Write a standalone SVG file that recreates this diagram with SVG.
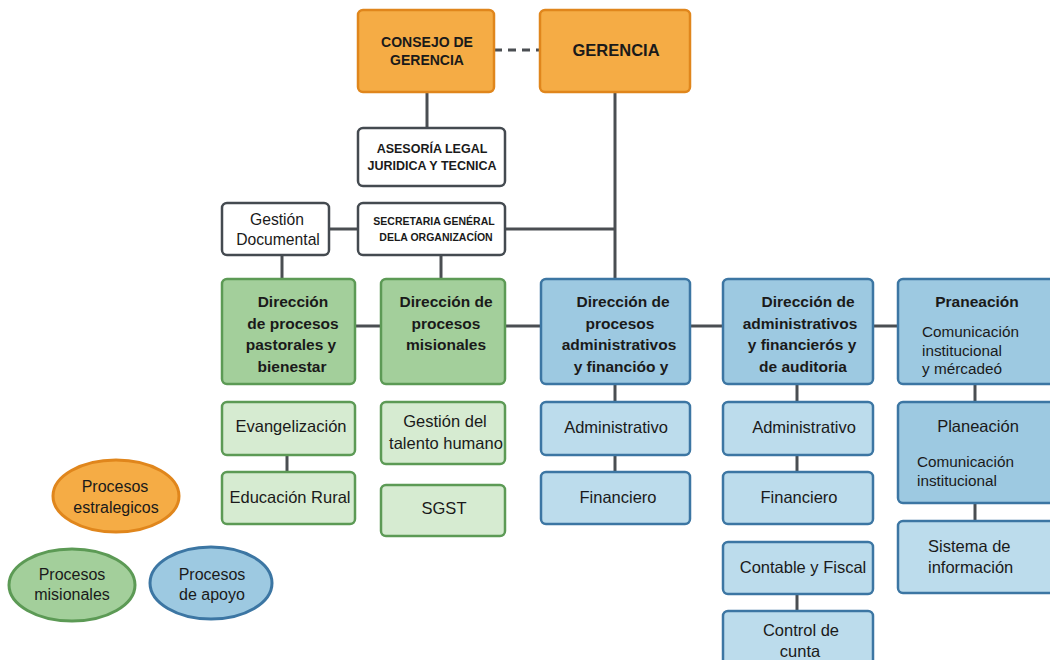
<svg xmlns="http://www.w3.org/2000/svg" width="1050" height="660" viewBox="0 0 1050 660">
<style>
text{font-family:"Liberation Sans",Arial,sans-serif;fill:#1a1a1a;text-anchor:middle}
.b{font-weight:bold}
.s{text-anchor:start}
.or{fill:#F5AC45;stroke:#E0861C;stroke-width:2.5}
.wh{fill:#ffffff;stroke:#444a50;stroke-width:2.5}
.gd{fill:#A3CF9B;stroke:#5C9A55;stroke-width:2.5}
.gl{fill:#D6EBD1;stroke:#5C9A55;stroke-width:2.5}
.bd{fill:#9DC9E1;stroke:#3C76A3;stroke-width:2.5}
.bl{fill:#BCDCEC;stroke:#3C76A3;stroke-width:2.5}
.ln{stroke:#4a4e52;stroke-width:3;fill:none}
</style>
<defs><clipPath id="clipTalento"><rect x="381" y="402" width="123" height="62"/></clipPath></defs>
<rect width="1050" height="660" fill="#ffffff"/>
<g id="connectors">
<line class="ln" x1="494" y1="50" x2="540" y2="50" stroke-dasharray="8,6"/>
<line class="ln" x1="427" y1="92" x2="427" y2="128"/>
<line class="ln" x1="615" y1="92" x2="615" y2="279"/>
<line class="ln" x1="505" y1="229" x2="615" y2="229"/>
<line class="ln" x1="329" y1="229" x2="358" y2="229"/>
<line class="ln" x1="282" y1="255" x2="282" y2="279"/>
<line class="ln" x1="441" y1="255" x2="441" y2="279"/>
<line class="ln" x1="355" y1="326" x2="381" y2="326"/>
<line class="ln" x1="505" y1="326" x2="541" y2="326"/>
<line class="ln" x1="690" y1="326" x2="723" y2="326"/>
<line class="ln" x1="873" y1="326" x2="898" y2="326"/>
<line class="ln" x1="287" y1="455" x2="287" y2="472"/>
<line class="ln" x1="615" y1="384" x2="615" y2="402"/>
<line class="ln" x1="615" y1="455" x2="615" y2="472"/>
<line class="ln" x1="797" y1="384" x2="797" y2="402"/>
<line class="ln" x1="797" y1="455" x2="797" y2="472"/>
<line class="ln" x1="797" y1="594" x2="797" y2="611"/>
<line class="ln" x1="975" y1="384" x2="975" y2="402"/>
<line class="ln" x1="975" y1="503" x2="975" y2="521"/>
</g>
<g id="consejo"><rect class="or" x="358" y="10" width="136" height="82" rx="5"/>
<text class="b" font-size="14"><tspan x="427" y="47">CONSEJO DE</tspan><tspan x="427" y="65">GERENCIA</tspan></text></g>
<g id="gerencia"><rect class="or" x="540" y="10" width="150" height="82" rx="5"/>
<text class="b" font-size="16.5" x="616" y="56">GERENCIA</text></g>
<g id="asesoria"><rect class="wh" x="358" y="128" width="147" height="58" rx="5"/>
<text class="b" font-size="12.5"><tspan x="432" y="153">ASESORÍA LEGAL</tspan><tspan x="432" y="170">JURIDICA Y TECNICA</tspan></text></g>
<g id="secretaria"><rect class="wh" x="358" y="203" width="147" height="52" rx="5"/>
<text class="b" font-size="10.5"><tspan x="434" y="225">SECRETARIA GENÉRAL</tspan><tspan x="436" y="241">DELA ORGANIZACÍON</tspan></text></g>
<g id="gestion-doc"><rect class="wh" x="222" y="203" width="107" height="52" rx="5"/>
<text font-size="15.7"><tspan x="277" y="225">Gestión</tspan><tspan x="278" y="245">Documental</tspan></text></g>
<g id="dir-pastorales"><rect class="gd" x="222" y="279" width="133" height="105" rx="5"/>
<text class="b" font-size="15.5"><tspan x="293" y="307">Dirección</tspan><tspan x="293" y="329">de procesos</tspan><tspan x="291" y="350">pastorales y</tspan><tspan x="292" y="372">bienestar</tspan></text></g>
<g id="dir-misionales"><rect class="gd" x="381" y="279" width="124" height="105" rx="5"/>
<text class="b" font-size="15.5"><tspan x="446" y="307">Dirección de</tspan><tspan x="446" y="329">procesos</tspan><tspan x="446" y="350">misionales</tspan></text></g>
<g id="dir-admin"><rect class="bd" x="541" y="279" width="149" height="105" rx="5"/>
<text class="b" font-size="15.5"><tspan x="623" y="307">Dirección de</tspan><tspan x="620" y="329">procesos</tspan><tspan x="619" y="350">administrativos</tspan><tspan x="621" y="372">y financióo y</tspan></text></g>
<g id="dir-auditoria"><rect class="bd" x="723" y="279" width="150" height="105" rx="5"/>
<text class="b" font-size="15.5"><tspan x="808" y="307">Dirección de</tspan><tspan x="800" y="329">administrativos</tspan><tspan x="802" y="350">y financierós y</tspan><tspan x="803" y="372">de auditoria</tspan></text></g>
<g id="praneacion"><rect class="bd" x="898" y="279" width="170" height="105" rx="5"/>
<text class="b" font-size="15.5" x="977" y="307">Praneación</text>
<text font-size="15.3" class="s"><tspan x="922" y="337">Comunicación</tspan><tspan x="922" y="356">institucional</tspan><tspan x="922" y="374">y mércadeó</tspan></text></g>
<g id="evangelizacion"><rect class="gl" x="222" y="402" width="133" height="53" rx="5"/>
<text font-size="16.5" x="291" y="432">Evangelización</text></g>
<g id="educacion"><rect class="gl" x="222" y="472" width="133" height="52" rx="5"/>
<text font-size="16.5" x="290" y="503">Educación Rural</text></g>
<g id="talento"><rect class="gl" x="381" y="402" width="124" height="62" rx="5"/>
<text font-size="16.5" clip-path="url(#clipTalento)"><tspan x="445" y="427">Gestión del</tspan><tspan x="446" y="449">talento humano</tspan></text></g>
<g id="sgst"><rect class="gl" x="381" y="485" width="124" height="51" rx="5"/>
<text font-size="16.5" x="444" y="514">SGST</text></g>
<g id="administrativo1"><rect class="bl" x="541" y="402" width="149" height="53" rx="5"/>
<text font-size="16.5" x="616" y="433">Administrativo</text></g>
<g id="financiero1"><rect class="bl" x="541" y="472" width="149" height="52" rx="5"/>
<text font-size="16.5" x="618" y="503">Financiero</text></g>
<g id="administrativo2"><rect class="bl" x="723" y="402" width="150" height="53" rx="5"/>
<text font-size="16.5" x="804" y="433">Administrativo</text></g>
<g id="financiero2"><rect class="bl" x="723" y="472" width="150" height="52" rx="5"/>
<text font-size="16.5" x="799" y="503">Financiero</text></g>
<g id="contable"><rect class="bl" x="723" y="542" width="150" height="52" rx="5"/>
<text font-size="16.5" x="803" y="573">Contable y Fiscal</text></g>
<g id="control"><rect class="bl" x="723" y="611" width="150" height="60" rx="5"/>
<text font-size="16.5"><tspan x="801" y="636">Control de</tspan><tspan x="800" y="657">cunta</tspan></text></g>
<g id="planeacion"><rect class="bd" x="898" y="402" width="170" height="101" rx="5"/>
<text font-size="16.5" x="978" y="432">Planeación</text>
<text font-size="15.3" class="s"><tspan x="917" y="467">Comunicación</tspan><tspan x="917" y="486">institucional</tspan></text></g>
<g id="sistema"><rect class="bl" x="898" y="521" width="170" height="72" rx="5"/>
<text font-size="16.5" class="s"><tspan x="928" y="552">Sistema de</tspan><tspan x="928" y="573">información</tspan></text></g>
<g id="leg-estrategicos"><ellipse cx="116" cy="496" rx="63" ry="36" fill="#F5AC45" stroke="#E0861C" stroke-width="3"/>
<text font-size="16"><tspan x="115" y="492">Procesos</tspan><tspan x="116" y="513">estralegicos</tspan></text></g>
<g id="leg-misionales"><ellipse cx="72" cy="585" rx="63" ry="36" fill="#A3CF9B" stroke="#5C9A55" stroke-width="3"/>
<text font-size="16"><tspan x="72" y="580">Procesos</tspan><tspan x="72" y="600">misionales</tspan></text></g>
<g id="leg-apoyo"><ellipse cx="211" cy="583" rx="61" ry="36" fill="#9DC9E1" stroke="#3C76A3" stroke-width="3"/>
<text font-size="16"><tspan x="212" y="580">Procesos</tspan><tspan x="212" y="600">de apoyo</tspan></text></g>
</svg>
